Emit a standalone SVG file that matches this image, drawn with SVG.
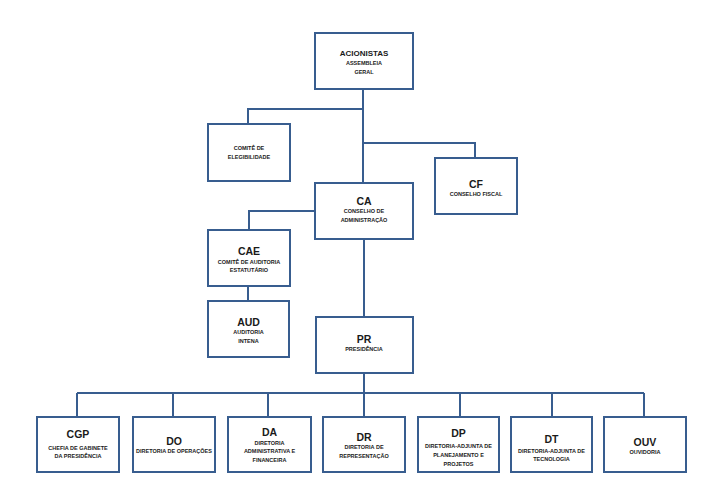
<svg xmlns="http://www.w3.org/2000/svg" width="707" height="500" viewBox="0 0 707 500">
<style>
.box{fill:#fff;stroke:#385D8F;stroke-width:2}
.ln{fill:none;stroke:#385D8F;stroke-width:2}
text{font-family:"Liberation Sans",Arial,sans-serif;font-weight:bold;fill:#1a1a1a;text-anchor:middle}
.t{font-size:10.5px}
.s{font-size:5.5px}
</style>
<rect width="707" height="500" fill="#fff"/>
<g id="connectors">
<path class="ln" d="M363,89 V183 M363,109 H248 V124 M363,143 H475 V158 M315,211 H249 V230 M248,286 V301 M364,239 V317 M364,373 V393 M77,393 H644 M77,393 V417 M173,393 V417 M268,393 V417 M364,393 V417 M460,393 V417 M552,393 V417 M644,393 V417"/>
</g>
<g id="acionistas"><rect class="box" x="315" y="33" width="98" height="56"/>
<text class="t" x="364" y="56" style="font-size:8px">ACIONISTAS</text>
<text class="s" x="364" y="64.5">ASSEMBLEIA</text><text class="s" x="364" y="73.5">GERAL</text></g>
<g id="comite-elegibilidade"><rect class="box" x="208" y="124" width="82" height="57"/>
<text class="s" x="249" y="149.5">COMITÊ DE</text><text class="s" x="249" y="158.5">ELEGIBILIDADE</text></g>
<g id="cf"><rect class="box" x="435" y="158" width="82" height="56"/>
<text class="t" x="476" y="188">CF</text><text class="s" x="476" y="196">CONSELHO FISCAL</text></g>
<g id="ca"><rect class="box" x="315" y="183" width="98" height="56"/>
<text class="t" x="364" y="205">CA</text><text class="s" x="364" y="213">CONSELHO DE</text><text class="s" x="364" y="222">ADMINISTRAÇÃO</text></g>
<g id="cae"><rect class="box" x="208" y="230" width="82" height="56"/>
<text class="t" x="249" y="255">CAE</text><text class="s" x="249" y="263.5">COMITÊ DE AUDITORIA</text><text class="s" x="249" y="272">ESTATUTÁRIO</text></g>
<g id="aud"><rect class="box" x="208" y="301" width="81" height="56"/>
<text class="t" x="248.5" y="325.5">AUD</text><text class="s" x="248.5" y="334">AUDITORIA</text><text class="s" x="248.5" y="342.5">INTENA</text></g>
<g id="pr"><rect class="box" x="316" y="317" width="97" height="56"/>
<text class="t" x="364" y="343">PR</text><text class="s" x="364" y="350.5">PRESIDÊNCIA</text></g>
<g id="cgp"><rect class="box" x="37" y="417" width="82" height="55"/>
<text class="t" x="78" y="438">CGP</text><text class="s" x="78" y="449.5">CHEFIA DE GABINETE</text><text class="s" x="78" y="458">DA PRESIDÊNCIA</text></g>
<g id="do"><rect class="box" x="133" y="417" width="82" height="55"/>
<text class="t" x="174" y="445">DO</text><text class="s" x="174" y="453">DIRETORIA DE OPERAÇÕES</text></g>
<g id="da"><rect class="box" x="228" y="417" width="83" height="55"/>
<text class="t" x="269.5" y="436">DA</text><text class="s" x="269.5" y="444.5">DIRETORIA</text><text class="s" x="269.5" y="453">ADMINISTRATIVA E</text><text class="s" x="269.5" y="462">FINANCEIRA</text></g>
<g id="dr"><rect class="box" x="323" y="417" width="82" height="55"/>
<text class="t" x="364" y="440.5">DR</text><text class="s" x="364" y="449">DIRETORIA DE</text><text class="s" x="364" y="458">REPRESENTAÇÃO</text></g>
<g id="dp"><rect class="box" x="418" y="417" width="81" height="55"/>
<text class="t" x="458.5" y="437">DP</text><text class="s" x="458.5" y="448">DIRETORIA-ADJUNTA DE</text><text class="s" x="458.5" y="456.5">PLANEJAMENTO E</text><text class="s" x="458.5" y="465.5">PROJETOS</text></g>
<g id="dt"><rect class="box" x="511" y="417" width="81" height="55"/>
<text class="t" x="551.5" y="443">DT</text><text class="s" x="551.5" y="452.5">DIRETORIA-ADJUNTA DE</text><text class="s" x="551.5" y="461">TECNOLOGIA</text></g>
<g id="ouv"><rect class="box" x="604" y="417" width="82" height="55"/>
<text class="t" x="645" y="445.5">OUV</text><text class="s" x="645" y="454">OUVIDORIA</text></g>
</svg>
